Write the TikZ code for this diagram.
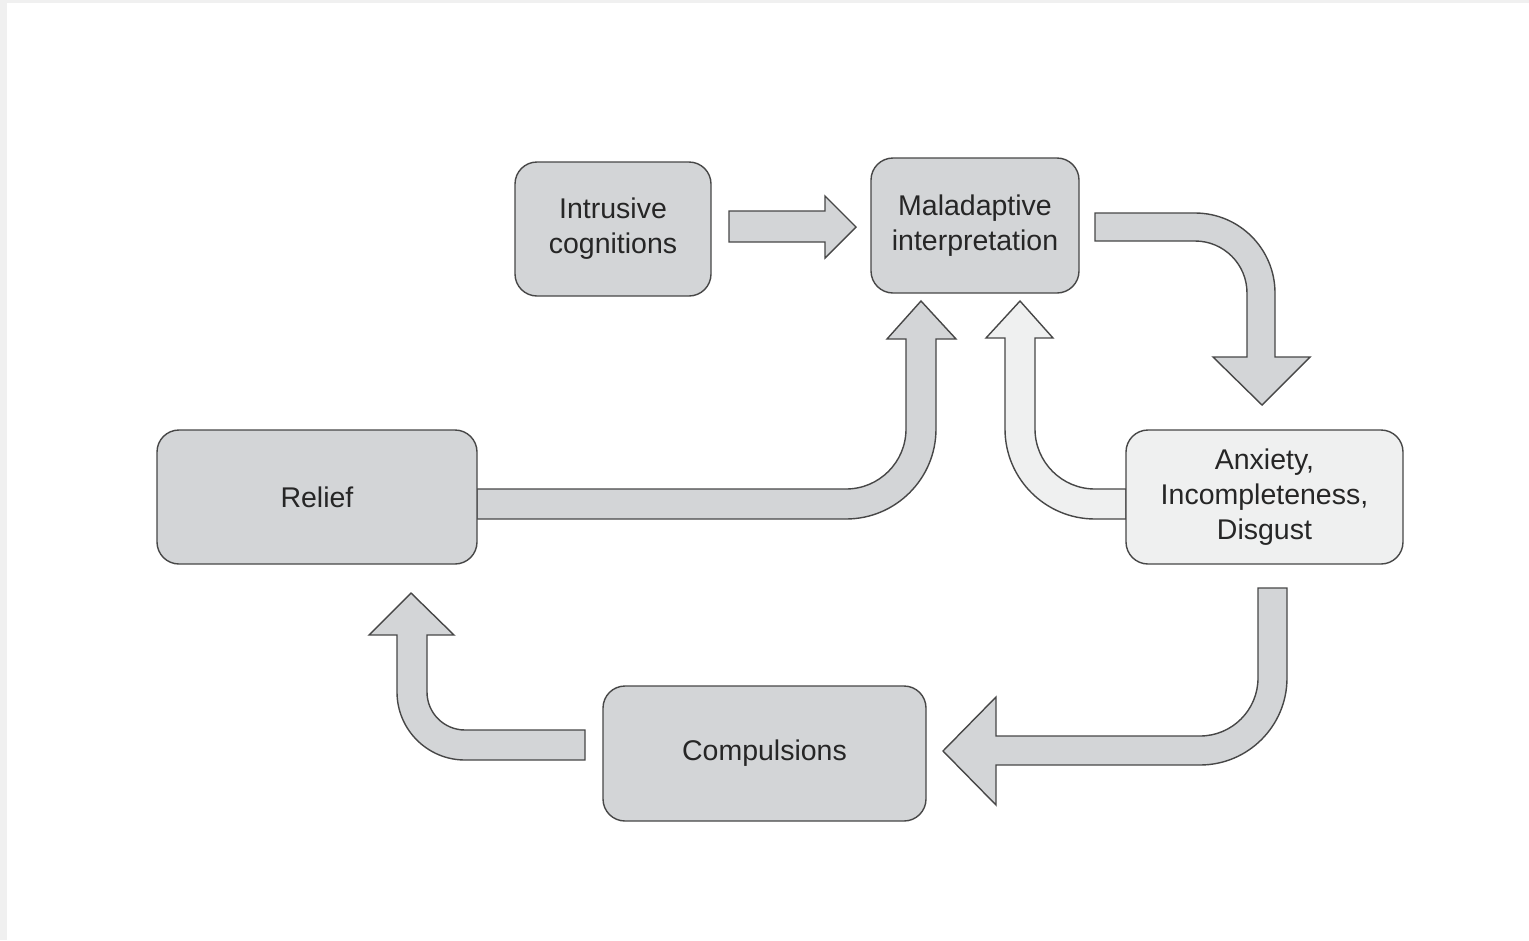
\documentclass[tikz,border=0pt]{standalone}
\usepackage{fontspec}
\setmainfont{Liberation Sans}
\definecolor{boxfill}{HTML}{D3D5D7}
\definecolor{lightfill}{HTML}{EFF0F0}
\definecolor{edge}{HTML}{474747}
\definecolor{ink}{HTML}{262626}
\definecolor{frame}{HTML}{F0F0F0}
\tikzset{
  box/.style={draw=edge, line width=1.4pt, fill=boxfill, rounded corners=22pt,
    inner sep=0pt, outer sep=0pt, align=center, text=ink,
    font=\fontsize{28.5}{35}\selectfont},
  blockarrow/.style={draw=edge, line width=1.4pt, fill=boxfill, line join=miter},
  lightarrow/.style={blockarrow, fill=lightfill}
}
\begin{document}
\begin{tikzpicture}[x=1pt,y=-1pt]
\useasboundingbox (0,0) rectangle (1529,940);
\fill[white] (0,0) rectangle (1529,940);
\fill[frame] (0,0) rectangle (7,940);
\fill[frame] (0,0) rectangle (1529,3);

% block arrows (drawn first so boxes sit on top)
% Intrusive -> Maladaptive
\draw[blockarrow] (729,211) -- (825,211) -- (825,196) -- (856,227) -- (825,258) -- (825,242) -- (729,242) -- cycle;
% Maladaptive -> Anxiety
\draw[blockarrow] (1095,213) -- (1195,213) arc[start angle=-90, end angle=0, radius=80] -- (1275,357) -- (1310,357) -- (1262,405) -- (1213,357) -- (1247,357) -- (1247,293) arc[start angle=0, end angle=-90, radius=52] -- (1095,241) -- cycle;
% Relief -> Maladaptive
\draw[blockarrow] (477,489) -- (846,489) arc[start angle=90, end angle=0, radius=60] -- (906,339) -- (887,339) -- (921,301) -- (956,339) -- (936,339) -- (936,429) arc[start angle=0, end angle=90, radius=90] -- (477,519) -- cycle;
% Anxiety -> Maladaptive
\draw[lightarrow] (1126,489) -- (1095,489) arc[start angle=90, end angle=180, radius=60] -- (1035,338) -- (1053,338) -- (1020,301) -- (986,338) -- (1005,338) -- (1005,429) arc[start angle=180, end angle=90, radius=90] -- (1126,519) -- cycle;
% Anxiety -> Compulsions
\draw[blockarrow] (1258,588) -- (1287,588) -- (1287,678) arc[start angle=0, end angle=90, radius=87] -- (996,765) -- (996,805) -- (943,751) -- (996,697) -- (996,736) -- (1200,736) arc[start angle=90, end angle=0, radius=58] -- cycle;
% Compulsions -> Relief
\draw[blockarrow] (585,730) -- (465,730) arc[start angle=90, end angle=180, radius=38] -- (427,635) -- (454,635) -- (411,593) -- (369,635) -- (397,635) -- (397,692) arc[start angle=180, end angle=90, radius=68] -- (585,760) -- cycle;

% boxes
\node[box, minimum width=196pt, minimum height=134pt] (intr) at (613,229) {Intrusive\\cognitions};
\node[box, minimum width=208pt, minimum height=135pt] (mal) at (975,225.5) {Maladaptive\\interpretation};
\node[box, minimum width=320pt, minimum height=134pt] (relief) at (317,497) {Relief};
\node[box, fill=lightfill, minimum width=277pt, minimum height=134pt] (anx) at (1264.5,497) {Anxiety,\\Incompleteness,\\Disgust};
\node[box, minimum width=323pt, minimum height=135pt] (comp) at (764.5,753.5) {Compulsions};
\end{tikzpicture}
\end{document}
